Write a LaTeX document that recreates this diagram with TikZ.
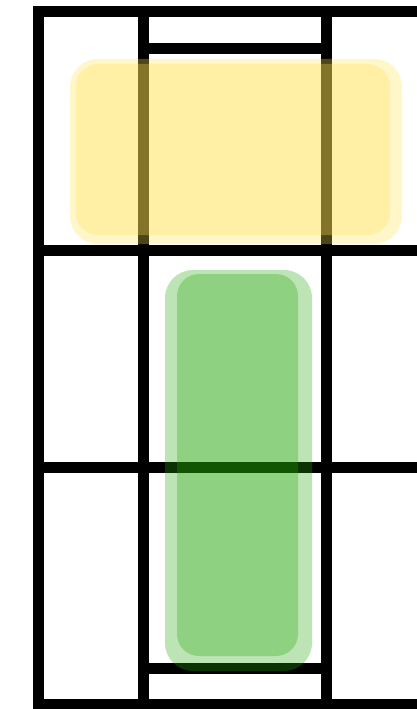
\documentclass[tikz,border=0pt]{standalone}
\begin{document}
\begin{tikzpicture}[x=1pt,y=-1pt]
\definecolor{yel}{RGB}{255,228,80}
\definecolor{grn}{RGB}{36,168,8}
\tikzset{
  wall/.style={line width=11pt, line cap=rect, black},
  wallin/.style={line width=11pt, line cap=butt, black},
  blobouter/.style={rounded corners=28pt, fill opacity=0.3},
  blobinner/.style={rounded corners=22pt, fill opacity=0.3}
}
\useasboundingbox (0,0) rectangle (416,709);
\fill[white] (0,0) rectangle (416,709);
% grid lines
\draw[wall] (38.5,11.5) -- (420,11.5);
\draw[wall] (38.5,11.5) -- (38.5,715);
\draw[wall] (143,11.5) -- (143,715);
\draw[wall] (326.5,11.5) -- (326.5,715);
\draw[wall] (38.5,250) -- (420,250);
\draw[wall] (38.5,467) -- (420,467);
\draw[wall] (38.5,704) -- (420,704);
\draw[wallin] (143,48.5) -- (326.5,48.5);
\draw[wallin] (143,668) -- (326.5,668);
% yellow blob
\fill[yel, blobouter] (70,59) rectangle (402,244);
\fill[yel, blobinner] (76,64) rectangle (390,235);
% green blob
\fill[grn, blobouter] (165,270) rectangle (312,671);
\fill[grn, blobinner] (177,274) rectangle (298,656);
\end{tikzpicture}
\end{document}
